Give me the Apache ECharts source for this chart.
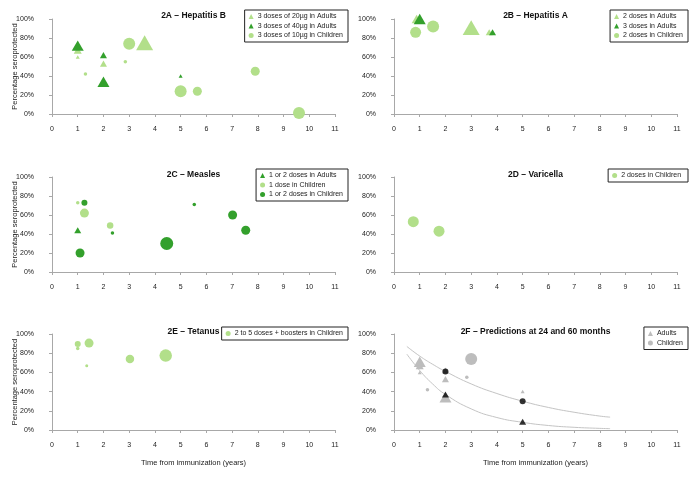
<!DOCTYPE html>
<html><head><meta charset="utf-8">
<script src="https://cdn.jsdelivr.net/npm/echarts@6/dist/echarts.min.js"></script>
<style>html,body{margin:0;padding:0;background:#fff}#c{width:699px;height:478px}</style>
</head><body><div id="c"></div>
<script>
// ---- data: [years, % seroprotected, marker size (study weight)] ----
const xTicks = [0,1,2,3,4,5,6,7,8,9,10,11];
const yTicks = [0,20,40,60,80,100];
// 2A Hepatitis B
const hepB20Adults   = [[1.0,67,8],[1.0,60,4],[2.0,53,7],[3.6,75,17]];
const hepB40Adults   = [[1.0,72,12],[2.0,62,7],[2.0,34,12],[5.0,40,4]];
const hepB10Children = [[1.3,42,3.5],[2.85,55,3.5],[3.0,74,12],[5.0,24,12],[5.65,24,9],[7.9,45,9],[9.6,1,12]];
// 2B Hepatitis A
const hepA2Adults   = [[0.88,100,10],[3.0,91,17],[3.7,86,7]];
const hepA3Adults   = [[1.0,100,12],[3.83,86,7]];
const hepA2Children = [[0.84,86,11],[1.52,92,12]];
// 2C Measles
const measAdults     = [[1.0,44,7]];
const meas1Children  = [[1.0,73,3.5],[1.26,62,9],[2.26,49,6.5]];
const meas12Children = [[1.26,73,6],[1.09,20,9],[2.35,41,3.5],[4.46,30,13],[5.53,71,3.5],[7.02,60,9],[7.53,44,9]];
// 2D Varicella
const varChildren = [[0.75,53,11],[1.75,43,11]];
// 2E Tetanus
const tetChildren = [[1.0,89.5,6],[1.0,85,3.5],[1.44,90.5,9],[1.35,67,3],[3.03,74,8.5],[4.42,77.5,12.5]];
// 2F Predictions
const predAdults   = [[1.0,71,12],[1.0,67,8],[1.0,60,4],[2.0,62,7],[2.0,53,7],[2.0,34,12],[5.0,40,4]];
const predChildren = [[1.3,42,3.5],[2.83,55,3.5],[3.0,74,12]];
const predCircles  = [[2,61],[5,30]];
const predTriangles= [[2,37],[5,8.5]];
const curveX     = [0.5,1,1.5,2,3,4,5,6,7,8,8.4];
const curveUpper = [87,77,68.5,61,48,38,30,23.5,18.5,14.5,13.4];
const curveLower = [79,62,48,37,22,13,8,4.7,2.8,1.7,1.4];

const titles = ['2A \u2013 Hepatitis B','2B \u2013 Hepatitis A','2C \u2013 Measles','2D \u2013 Varicella','2E \u2013 Tetanus','2F \u2013 Predictions at 24 and 60 months'];

const LIGHT = '#b2df8a', DARK = '#33a02c', GREY = '#bdbdbd';
const FONT = '"Liberation Sans", Arial, Helvetica, sans-serif';

const grids = [
  {left:52, top:19, width:283, height:95},
  {left:394,top:19, width:283, height:95},
  {left:52, top:177,width:283, height:95},
  {left:394,top:177,width:283, height:95},
  {left:52, top:334,width:283, height:96},
  {left:394,top:334,width:283, height:96}
];
const axisCol = '#a8a8a8';
const xAxes = grids.map((g,i)=>({
  type:'value', gridIndex:i, min:0, max:11, interval:1, offset:4,
  axisLine:{show:true, lineStyle:{color:axisCol, width:1}},
  axisTick:{show:true, length:3, lineStyle:{color:axisCol}},
  axisLabel:{fontSize:7, margin:8, color:'#222', fontFamily:FONT},
  splitLine:{show:false},
  name: i>=4 ? 'Time from immunization (years)' : '',
  nameLocation:'middle', nameGap:25, nameMoveOverlap:false,
  nameTextStyle:{fontSize:7.5, color:'#222', fontFamily:FONT}
}));
const yAxes = grids.map((g,i)=>({
  type:'value', gridIndex:i, min:0, max:100, interval:20, offset:12,
  axisLine:{show:true, lineStyle:{color:axisCol, width:1}},
  axisTick:{show:true, length:3, lineStyle:{color:axisCol}},
  axisLabel:{fontSize:7, margin:6, color:'#222', formatter:'{value}%', fontFamily:FONT},
  splitLine:{show:false},
  name: (i%2===0) ? 'Percentage seroprotected' : '',
  nameLocation:'middle', nameGap:21, nameRotate:90, nameMoveOverlap:false,
  nameTextStyle:{fontSize:7.5, color:'#222', fontFamily:FONT}
}));

function tri(name, data, color, gi){
  return {type:'scatter', name, xAxisIndex:gi, yAxisIndex:gi, data, clip:false,
    symbol:'triangle', symbolSize:d=>[d[2], d[2]*0.87],
    itemStyle:{color, opacity:1}, emphasis:{disabled:true}};
}
function circ(name, data, color, gi){
  return {type:'scatter', name, xAxisIndex:gi, yAxisIndex:gi, data, clip:false,
    symbol:'circle', symbolSize:d=>d[2],
    itemStyle:{color, opacity:1}, emphasis:{disabled:true}};
}
function curve(ys){
  return {type:'line', xAxisIndex:5, yAxisIndex:5, data:curveX.map((x,k)=>[x,ys[k]]),
    smooth:true, showSymbol:false, lineStyle:{color:'#c4c4c4', width:1}, silent:true, z:1};
}

const series = [
  tri('3 doses of 20\u00b5g in Adults', hepB20Adults, LIGHT, 0),
  tri('3 doses of 40\u00b5g in Adults', hepB40Adults, DARK, 0),
  circ('3 doses of 10\u00b5g in Children', hepB10Children, LIGHT, 0),
  tri('2 doses in Adults', hepA2Adults, LIGHT, 1),
  tri('3 doses in Adults', hepA3Adults, DARK, 1),
  circ('2 doses in Children', hepA2Children, LIGHT, 1),
  tri('1 or 2 doses in Adults', measAdults, DARK, 2),
  circ('1 dose in Children', meas1Children, LIGHT, 2),
  circ('1 or 2 doses in Children', meas12Children, DARK, 2),
  circ('2 doses in Children ', varChildren, LIGHT, 3),
  circ('2 to 5 doses + boosters in Children', tetChildren, LIGHT, 4),
  curve(curveUpper), curve(curveLower),
  tri('Adults', predAdults, GREY, 5),
  circ('Children', predChildren, GREY, 5),
  {type:'scatter', xAxisIndex:5, yAxisIndex:5, data:predCircles, symbol:'circle', symbolSize:6, itemStyle:{color:'#000'}, clip:false, z:5},
  {type:'scatter', xAxisIndex:5, yAxisIndex:5, data:predTriangles, symbol:'triangle', symbolSize:[7,6], itemStyle:{color:'#000'}, clip:false, z:5}
];

function legend(names, icons, right, top){
  return {orient:'vertical', right, top, data:names.map((n,k)=>({name:n, icon:icons[k]})),
    itemWidth:5, itemHeight:5, itemGap:2.5, padding:[3,5,3,4],
    borderColor:'#222', borderWidth:1, selectedMode:false,
    textStyle:{fontSize:7, color:'#222', fontFamily:FONT, padding:[0,0,0,-1]}};
}
const legends = [
  legend(['3 doses of 20\u00b5g in Adults','3 doses of 40\u00b5g in Adults','3 doses of 10\u00b5g in Children'],['triangle','triangle','circle'], 351, 10),
  legend(['2 doses in Adults','3 doses in Adults','2 doses in Children'],['triangle','triangle','circle'], 11, 10),
  legend(['1 or 2 doses in Adults','1 dose in Children','1 or 2 doses in Children'],['triangle','circle','circle'], 351, 169),
  legend(['2 doses in Children '],['circle'], 11, 169),
  legend(['2 to 5 doses + boosters in Children'],['circle'], 351, 327),
  legend(['Adults','Children'],['triangle','circle'], 11, 327)
];

const titleY = [16,16,175,175,332,332];
const graphic = titles.map((t,i)=>({
  type:'text', x: grids[i].left + grids[i].width/2, y: titleY[i],
  style:{text:t, font:'bold 8.5px '+FONT, fill:'#111', textAlign:'center', textVerticalAlign:'middle'}
}));

const chart = echarts.init(document.getElementById('c'), null, {renderer:'canvas'});
chart.setOption({
  animation:false, backgroundColor:'#fff',
  grid:grids, xAxis:xAxes, yAxis:yAxes, series, legend:legends, graphic
});
</script></body></html>
